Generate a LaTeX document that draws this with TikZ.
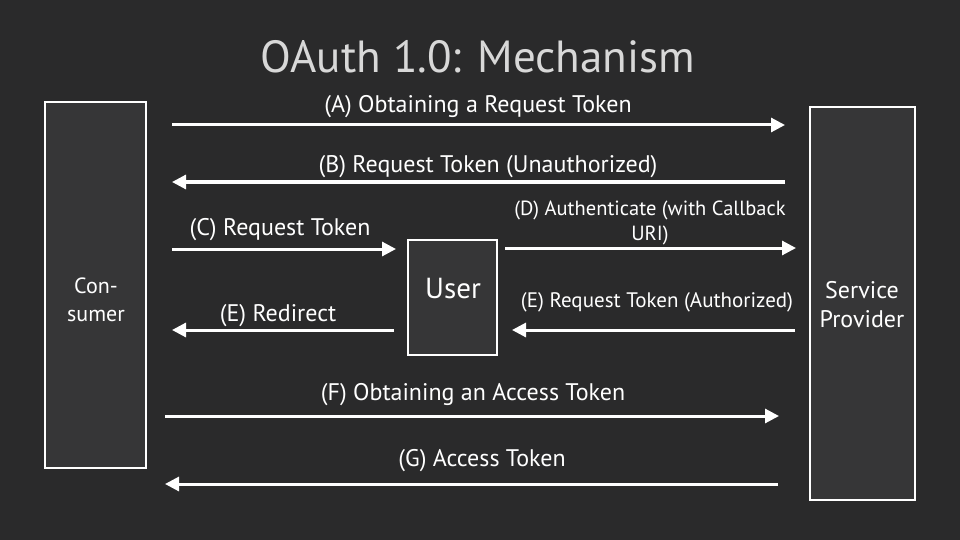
\documentclass[tikz,border=0pt]{standalone}
\usepackage{fontspec}
\setmainfont{PT Sans}
\usetikzlibrary{arrows.meta}
\definecolor{bg}{HTML}{2A2A2B}
\definecolor{boxc}{HTML}{363637}
\definecolor{ttl}{HTML}{D8D8D8}
\begin{document}
\begin{tikzpicture}[x=1pt,y=-1pt,
  box/.style={draw=white,line width=1.5pt,fill=boxc,inner sep=0pt},
  arr/.style={white,line width=3pt,-{Triangle[length=14pt,width=14pt]}},
  lbl/.style={text=white,font=\fontsize{24}{27}\selectfont,inner sep=0pt,align=center}]
\fill[bg] (0,0) rectangle (960,540);
\useasboundingbox (0,0) rectangle (960,540);
\node[text=ttl,font=\fontsize{45}{48}\selectfont] (title) at (478,57) {OAuth 1.0: Mechanism};
\node[box,minimum width=101pt,minimum height=366pt] (cons) at (95.5,285) {};
\node[box,minimum width=105pt,minimum height=393pt] (sp) at (862.5,303.5) {};
\node[box,minimum width=89pt,minimum height=115pt] (user) at (452.5,297.5) {};
\node[lbl,font=\fontsize{22}{28}\selectfont] (consT) at (96,300) {Con-\\sumer};
\node[lbl,font=\fontsize{24}{29}\selectfont] (spT) at (862,305) {Service\\Provider};
\node[lbl,font=\fontsize{29}{30}\selectfont] (userT) at (453,289) {User};
\coordinate (a1) at (172,125); \coordinate (a2) at (785,125);
\coordinate (b1) at (785,182); \coordinate (b2) at (172,182);
\coordinate (c1) at (172,249); \coordinate (c2) at (396,249);
\coordinate (d1) at (505,248); \coordinate (d2) at (796,248);
\coordinate (e1) at (795,330); \coordinate (e2) at (512,330);
\coordinate (r1) at (394,330); \coordinate (r2) at (172,330);
\coordinate (f1) at (165,416); \coordinate (f2) at (779,416);
\coordinate (g1) at (778,484); \coordinate (g2) at (165,484);
\draw[arr] (a1) -- (a2);
\draw[arr] (b1) -- (b2);
\draw[arr] (c1) -- (c2);
\draw[arr] (d1) -- (d2);
\draw[arr] (e1) -- (e2);
\draw[arr] (r1) -- (r2);
\draw[arr] (f1) -- (f2);
\draw[arr] (g1) -- (g2);
\node[lbl] (la) at (478,107) {(A) Obtaining a Request Token};
\node[lbl] (lb) at (488,167) {(B) Request Token (Unauthorized)};
\node[lbl] (lc) at (280,230) {(C) Request Token};
\node[lbl,font=\fontsize{20.5}{25}\selectfont] (ld) at (650,223) {(D) Authenticate (with Callback\\URI)};
\node[lbl] (lr) at (278,316) {(E) Redirect};
\node[lbl,font=\fontsize{21}{24}\selectfont] (le) at (657,302) {(E) Request Token (Authorized)};
\node[lbl] (lf) at (473,395) {(F) Obtaining an Access Token};
\node[lbl] (lg) at (482,461) {(G) Access Token};
\end{tikzpicture}
\end{document}
